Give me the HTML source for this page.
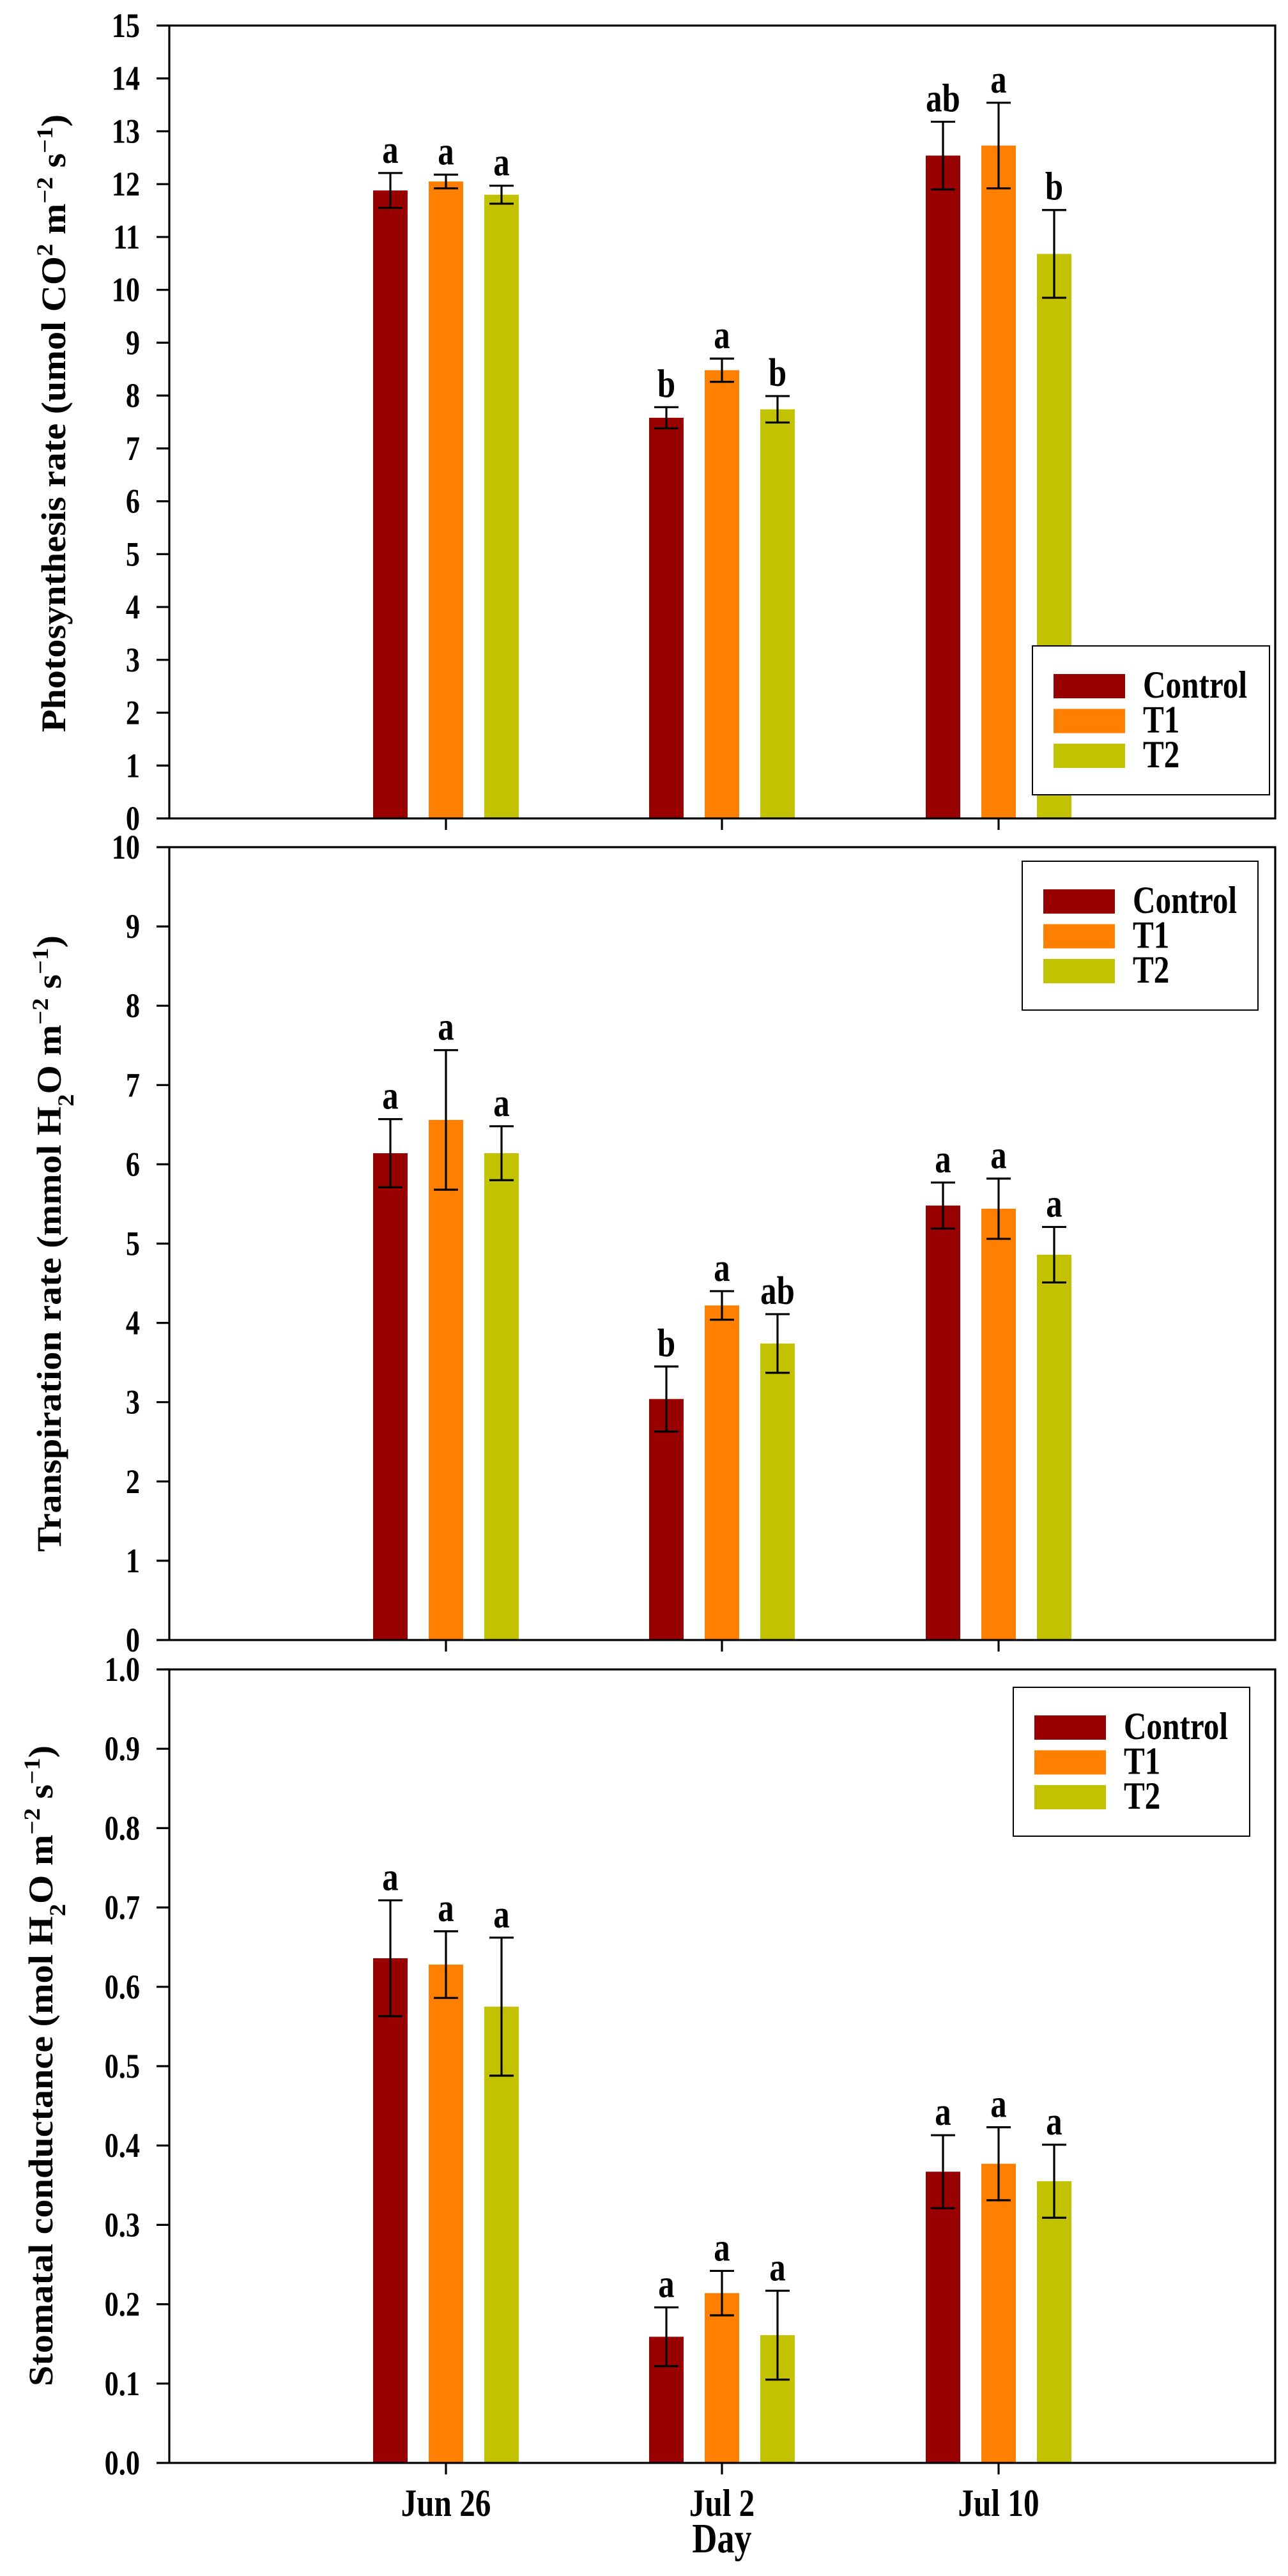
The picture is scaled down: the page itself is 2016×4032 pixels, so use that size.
<!DOCTYPE html>
<html><head><meta charset="utf-8"><style>
html,body{margin:0;padding:0;background:#fff;}
svg{display:block;font-family:"Liberation Serif",serif;font-weight:bold;}
</style></head><body>
<svg id="chart" width="2016" height="4032" viewBox="0 0 2016 4032" xmlns="http://www.w3.org/2000/svg"></svg>
<script>
const categories = ["Jun 26", "Jul 2", "Jul 10"];
const seriesNames = ["Control", "T1", "T2"];
const seriesColors = ["#990000", "#ff8000", "#c2c200"];
// Photosynthesis
const photoValues = [[11.88, 7.58, 12.54], [12.05, 8.48, 12.73], [11.80, 7.74, 10.68]];
const photoErrors = [[0.33, 0.20, 0.64], [0.13, 0.22, 0.81], [0.17, 0.25, 0.83]];
const photoLetters = [["a", "b", "ab"], ["a", "a", "a"], ["a", "b", "b"]];
const photoTicks = ["0","1","2","3","4","5","6","7","8","9","10","11","12","13","14","15"];
// Transpiration
const transValues = [[6.14, 3.04, 5.48], [6.56, 4.22, 5.44], [6.14, 3.74, 4.86]];
const transErrors = [[0.43, 0.41, 0.29], [0.88, 0.18, 0.38], [0.34, 0.37, 0.35]];
const transLetters = [["a", "b", "a"], ["a", "a", "a"], ["a", "ab", "a"]];
const transTicks = ["0","1","2","3","4","5","6","7","8","9","10"];
// Stomatal conductance
const condValues = [[0.636, 0.159, 0.367], [0.628, 0.214, 0.377], [0.575, 0.161, 0.355]];
const condErrors = [[0.073, 0.037, 0.046], [0.042, 0.028, 0.046], [0.087, 0.056, 0.046]];
const condLetters = [["a", "a", "a"], ["a", "a", "a"], ["a", "a", "a"]];
const condTicks = ["0.0","0.1","0.2","0.3","0.4","0.5","0.6","0.7","0.8","0.9","1.0"];

const NS = "http://www.w3.org/2000/svg";
const svg = document.getElementById("chart");
function mk(tag, attrs, parent) {
  const e = document.createElementNS(NS, tag);
  for (const k in attrs) e.setAttribute(k, attrs[k]);
  (parent || svg).appendChild(e);
  return e;
}
function ctext(x, y, str, size, anchor, parent) {
  const t = mk("text", {transform: "translate(" + x + "," + y + ") scale(0.82,1)", x: 0, y: 0, "text-anchor": anchor, "font-size": size}, parent);
  t.textContent = str;
  return t;
}
const X0 = 265, X1 = 1996;
const catX = [698, 1130, 1563];
const offs = [-87, 0, 87];
const BW = 54;

function panel(key, top, bottom, ymax, ticks, values, errors, letters, legend, titleParts, titleX, titleY1, titleY2) {
  const g = mk("g", {});
  
  
  const y = v => bottom - (v / ymax) * (bottom - top);
  for (let s = 0; s < 3; s++) {
    for (let c = 0; c < 3; c++) {
      const v = values[s][c], e = errors[s][c];
      const cx = catX[c] + offs[s];
      const r = mk("rect", {x: cx - BW/2, y: y(v), width: BW, height: bottom - y(v), fill: seriesColors[s]}, g);
      
      
      const eg = mk("g", {stroke: "#000", "stroke-width": 3.2}, g);
      
      
      mk("line", {x1: cx, x2: cx, y1: y(v + e), y2: y(v - e)}, eg);
      mk("line", {x1: cx - 19, x2: cx + 19, y1: y(v + e), y2: y(v + e)}, eg);
      mk("line", {x1: cx - 19, x2: cx + 19, y1: y(v - e), y2: y(v - e)}, eg);
      const t = ctext(cx, y(v + e) - 16, letters[s][c], 62, "middle", g);
      
      
    }
  }
  const fr = mk("rect", {x: X0, y: top, width: X1 - X0, height: bottom - top, fill: "none", stroke: "#000", "stroke-width": 3.2}, g);
  
  
  for (let i = 0; i < ticks.length; i++) {
    const v = parseFloat(ticks[i]);
    const ty = y(v);
    mk("line", {x1: X0 - 20, x2: X0, y1: ty, y2: ty, stroke: "#000", "stroke-width": 3.2}, g);
    const t = ctext(219, ty + 18, ticks[i], 54, "end", g);
    
    
  }
  for (let c = 0; c < 3; c++) {
    mk("line", {x1: catX[c], x2: catX[c], y1: bottom, y2: bottom + 18, stroke: "#000", "stroke-width": 3.2}, g);
  }
  const lg = mk("g", {}, g);
  
  
  mk("rect", {x: legend.x, y: legend.y, width: legend.w, height: legend.h, fill: "#fff", stroke: "#000", "stroke-width": 2}, lg);
  for (let s = 0; s < 3; s++) {
    const ry = legend.y + 44 + s * 54.5;
    const sw = mk("rect", {x: legend.x + 33, y: ry, width: 112, height: 38, fill: seriesColors[s]}, lg);
    
    
    const t = ctext(legend.x + 173, ry + 37, seriesNames[s], 60, "start", lg);
    
    
  }
  const tt = mk("text", {transform: "translate(" + titleX + "," + titleY1 + ") rotate(-90)", "font-size": 54,
    textLength: titleY1 - titleY2, lengthAdjust: "spacingAndGlyphs"}, g);
  
  
  for (const p of titleParts) {
    const ts = mk("tspan", {}, tt);
    if (p[1] === "sup") { ts.setAttribute("baseline-shift", "super"); ts.setAttribute("font-size", 36); }
    if (p[1] === "sub") { ts.setAttribute("baseline-shift", "sub"); ts.setAttribute("font-size", 36); }
    ts.textContent = p[0];
  }
}

panel("photosynthesis", 40, 1281, 15, photoTicks, photoValues, photoErrors, photoLetters,
  {x: 1616, y: 1011, w: 371, h: 233},
  [["Photosynthesis rate (umol CO"], ["2", "sup"], [" m"], ["\u22122", "sup"], [" s"], ["\u22121", "sup"], [")"]],
  102, 1146, 179);
panel("transpiration", 1326, 2567, 10, transTicks, transValues, transErrors, transLetters,
  {x: 1600, y: 1348, w: 369, h: 233},
  [["Transpiration rate (mmol H"], ["2", "sub"], ["O m"], ["\u22122", "sup"], [" s"], ["\u22121", "sup"], [")"]],
  95, 2429, 1464);
panel("conductance", 2613, 3855, 1.0, condTicks, condValues, condErrors, condLetters,
  {x: 1586, y: 2641, w: 370, h: 233},
  [["Stomatal conductance (mol H"], ["2", "sub"], ["O m"], ["\u22122", "sup"], [" s"], ["\u22121", "sup"], [")"]],
  82, 3735, 2732);

for (let c = 0; c < 3; c++) {
  const t = ctext(catX[c], 3938, categories[c], 60, "middle");
  
  
}
const xt = ctext(1130, 3995, "Day", 66, "middle");


</script>
</body></html>
